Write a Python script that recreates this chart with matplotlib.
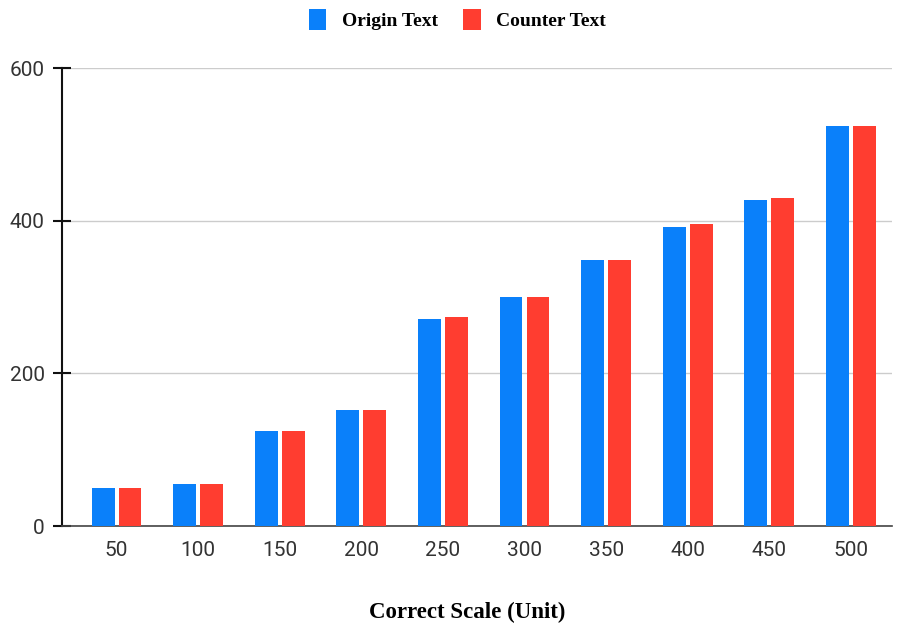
import matplotlib
matplotlib.use("Agg")
from matplotlib import pyplot as plt
import numpy as np

# Category labels and the two series
scales = ["50", "100", "150", "200", "250", "300", "350", "400", "450", "500"]
origin_text = [50, 55, 124, 152, 271, 300, 348, 392, 427, 524]
counter_text = [50, 55, 124, 152, 274, 300, 348, 396, 430, 524]

blue = "#0A80FA"
red = "#FF3D30"

fig = plt.figure(figsize=(8.97, 6.31), dpi=100)
ax = fig.add_axes([0.069, 0.1664, 0.925, 0.7258])

x = np.arange(len(scales))
w = 0.28
off = 0.165
ax.bar(x - off, origin_text, width=w, color=blue, label="Origin Text", zorder=3)
ax.bar(x + off, counter_text, width=w, color=red, label="Counter Text", zorder=3)

# Axes formatting
ax.set_ylim(0, 600)
ax.set_xlim(-0.67, 9.5)
ax.set_yticks([0, 200, 400, 600])
ax.set_xticks(x)
ax.set_xticklabels(scales)
ax.grid(axis="y", color="#cccccc", linewidth=1, zorder=0)

for side in ["top", "right"]:
    ax.spines[side].set_visible(False)
ax.spines["left"].set_color("#111111")
ax.spines["left"].set_linewidth(1.5)
ax.spines["bottom"].set_color("#444444")
ax.spines["bottom"].set_linewidth(1.2)

ax.tick_params(axis="y", direction="inout", length=13, width=1.5, color="#111111",
               labelsize=15, labelcolor="#333333", pad=6)
ax.tick_params(axis="x", length=0, labelsize=15, labelcolor="#333333", pad=11)
for lbl in ax.get_xticklabels() + ax.get_yticklabels():
    lbl.set_fontfamily("Roboto")

ax.set_xlabel("Correct Scale (Unit)", fontsize=16.5, fontweight="bold",
              family="Liberation Serif", labelpad=30)
ax.xaxis.label.set_x(0.488)

leg = fig.legend(loc="upper center", bbox_to_anchor=(0.51, 1.014), ncol=2, frameon=False,
                 prop={"family": "Liberation Serif", "weight": "bold", "size": 14},
                 handlelength=0.9, handleheight=1.3, handletextpad=0.8, columnspacing=1.3)

fig.savefig("out.png", dpi=100)
